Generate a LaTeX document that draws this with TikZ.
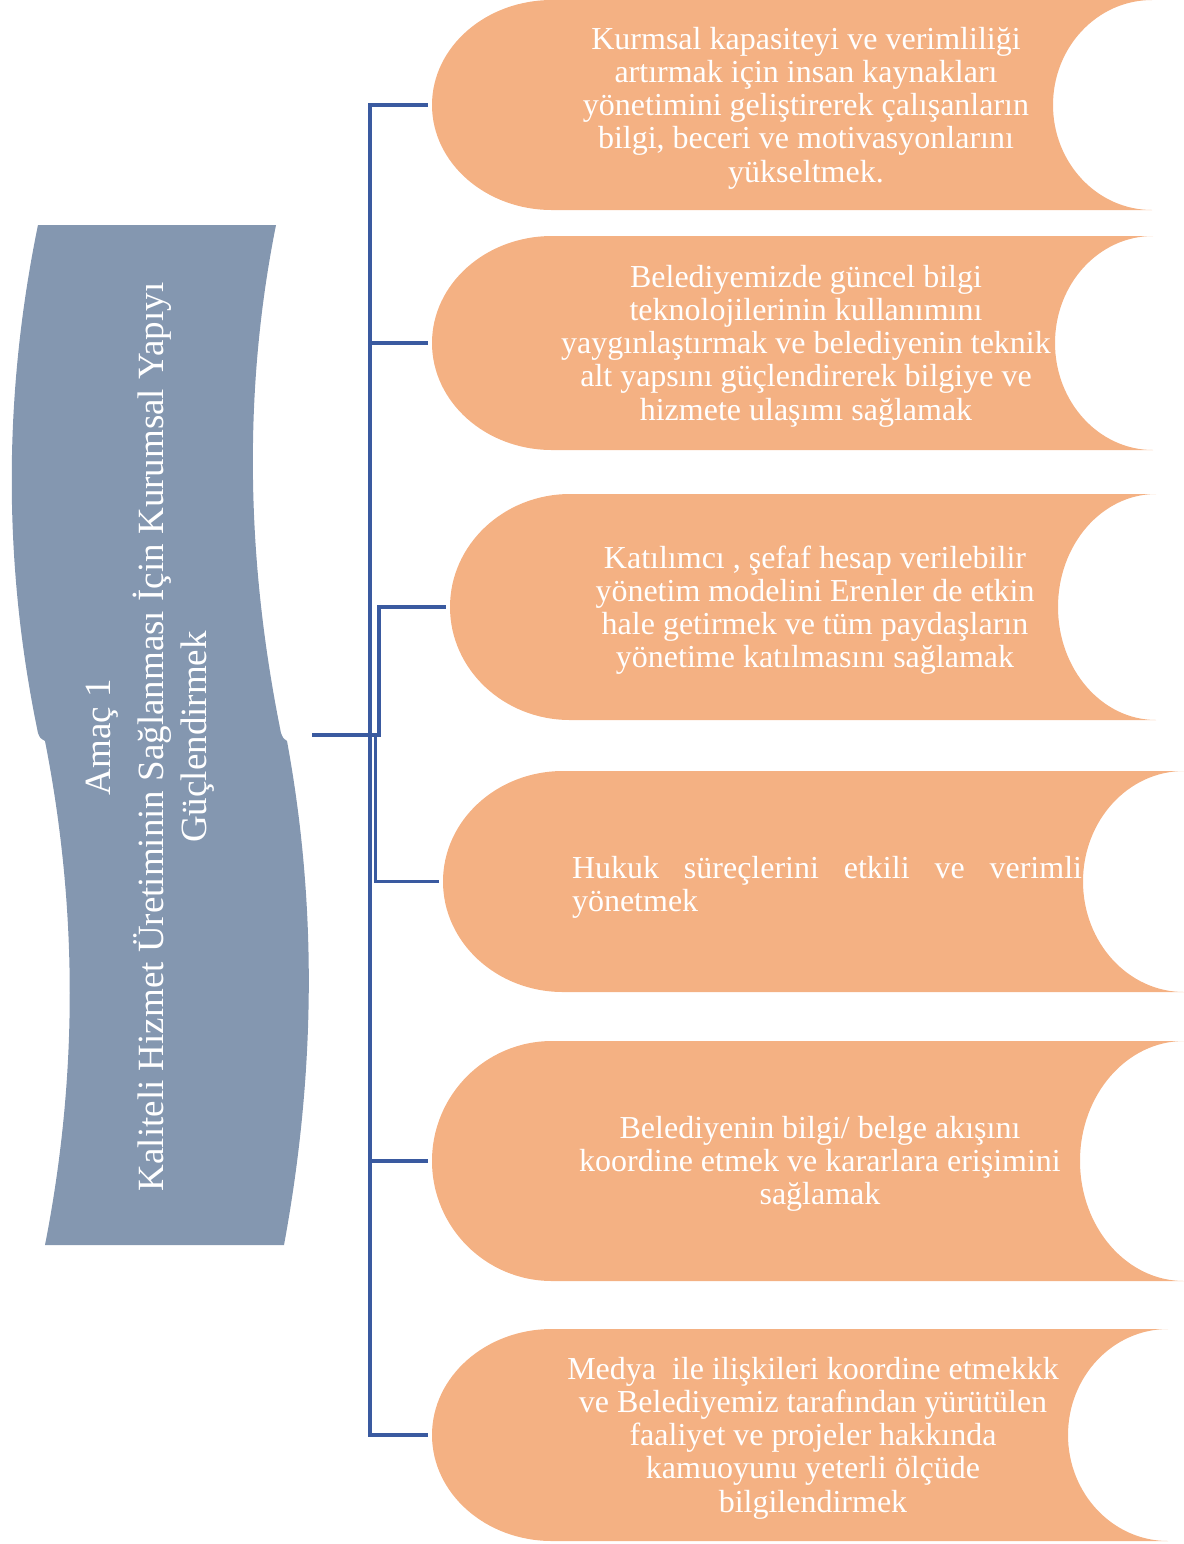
\documentclass[tikz,border=0pt]{standalone}
\usepackage{fontspec}
\setmainfont{Liberation Serif}
\usetikzlibrary{calc,positioning}

\definecolor{amacgri}{RGB}{132,151,176}
\definecolor{hedefturuncu}{RGB}{244,177,131}
\definecolor{baglanti}{RGB}{58,90,160}

\tikzset{
  hedefyazi/.style={text=white, align=center, inner sep=0pt,
    font=\fontsize{16}{16.6}\selectfont},
  amacyazi/.style={text=white, align=center, inner sep=0pt, rotate=90,
    font=\fontsize{18.5}{21.5}\selectfont},
  bagla/.style={draw=baglanti, line width=1.6pt},
}

% orange goal box: name, top, bottom, left, right corner, right hollow
\newcommand{\hedefkutu}[6]{%
  \pgfmathsetmacro{\orta}{(#2+#3)/2}%
  \pgfmathsetmacro{\yy}{(#3-#2)/2}%
  \pgfmathsetmacro{\oyuk}{#5-#6}%
  \fill[hedefturuncu] (#4+120,#2) -- (#5,#2)
    arc[start angle=270, end angle=90, x radius=\oyuk, y radius=\yy]
    -- (#4+120,#3)
    arc[start angle=90, end angle=270, x radius=120, y radius=\yy] -- cycle;
  \coordinate (#1) at (#4-4,\orta);%
}

\begin{document}
\begin{tikzpicture}[x=0.5pt, y=-0.5pt]
  % --- Canvas (pixel grid, y downwards) ---
  \useasboundingbox (0,0) rectangle (1184,1544);

  % --- 1. Goal banner ---
  \fill[amacgri] (38,225) -- (276,225)
    .. controls (242,395) and (247,565) .. (281,733)
    .. controls (283,738) .. (287,741)
    .. controls (318,909) and (315,1077) .. (284,1245)
    -- (45,1245)
    .. controls (78,1077) and (78,909) .. (45,741)
    .. controls (40,738) .. (38,733)
    .. controls (3,565) and (3,395) .. (38,225) -- cycle;
  \node[amacyazi] (amac) at (150,737)
    {Amaç 1\\[5pt]
     Kaliteli Hizmet Üretiminin Sağlanması İçin Kurumsal Yapıyı\\
     Güçlendirmek};
  \coordinate (kok) at (312,735);

  % --- 2. Target boxes ---
  \hedefkutu{h1}{0}{210}{432}{1152}{1053}
  \hedefkutu{h2}{236}{450}{432}{1153}{1055}
  \hedefkutu{h3}{494}{720}{450}{1156}{1058}
  \hedefkutu{h4}{771}{992}{443}{1184}{1083}
  \hedefkutu{h5}{1041}{1281}{432}{1184}{1080}
  \hedefkutu{h6}{1329}{1541}{432}{1168}{1068}

  % --- 3. Connectors (elbows) ---
  \foreach \i in {1,...,6}
    \draw[bagla] (kok) -| ($(kok)!.5!(h\i)$) |- (h\i);

  % --- 4. Texts ---
  \node[hedefyazi] (y1) at (806,108)
    {Kurmsal kapasiteyi ve verimliliği\\
     artırmak için insan kaynakları\\
     yönetimini geliştirerek çalışanların\\
     bilgi, beceri ve motivasyonlarını\\
     yükseltmek.};
  \node[hedefyazi] (y2) at (806,346)
    {Belediyemizde güncel bilgi\\
     teknolojilerinin kullanımını\\
     yaygınlaştırmak ve belediyenin teknik\\
     alt yapsını güçlendirerek bilgiye ve\\
     hizmete ulaşımı sağlamak};
  \node[hedefyazi] (y3) at (815,610)
    {Katılımcı , şefaf hesap verilebilir\\
     yönetim modelini Erenler de etkin\\
     hale getirmek ve tüm paydaşların\\
     yönetime katılmasını sağlamak};
  \node[hedefyazi, align=justify, text width=255pt] (y4) at (827,887)
    {Hukuk süreçlerini etkili ve verimli\linebreak yönetmek};
  \node[hedefyazi] (y5) at (820,1164)
    {Belediyenin bilgi/ belge akışını\\
     koordine etmek ve kararlara erişimini\\
     sağlamak};
  \node[hedefyazi] (y6) at (813,1438)
    {Medya\ \ ile ilişkileri koordine etmekkk\\
     ve Belediyemiz tarafından yürütülen\\
     faaliyet ve projeler hakkında\\
     kamuoyunu yeterli ölçüde\\
     bilgilendirmek};
\end{tikzpicture}
\end{document}
